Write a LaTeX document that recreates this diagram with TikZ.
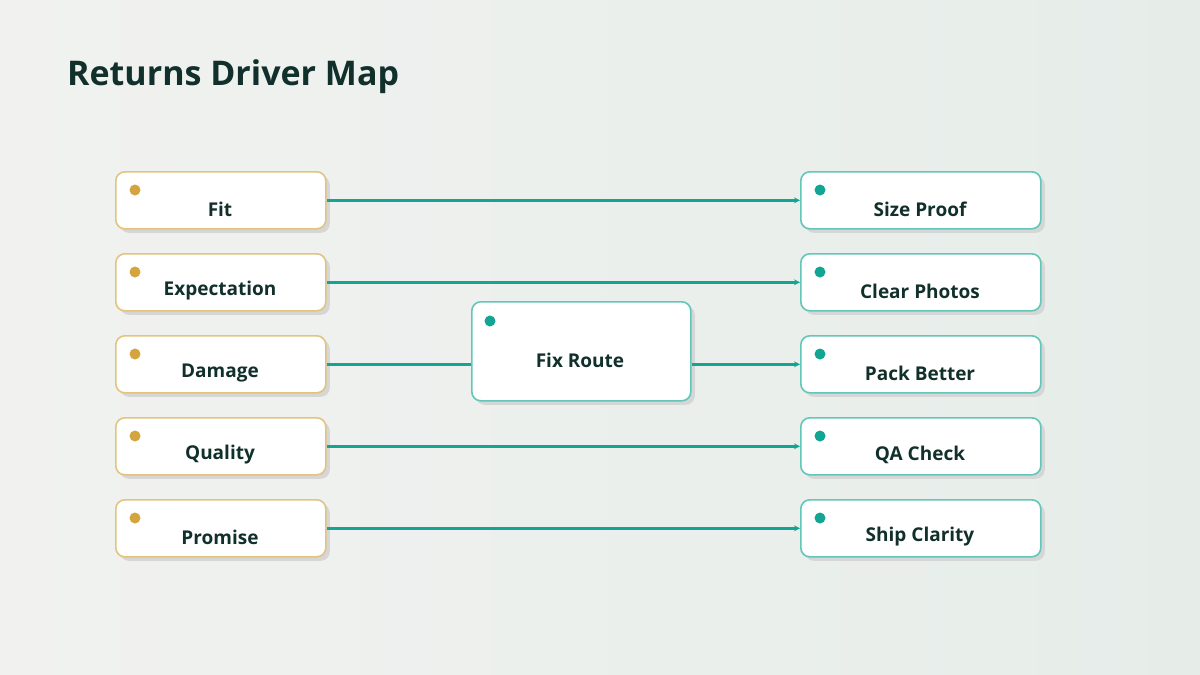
\documentclass[tikz,border=0pt]{standalone}
\usepackage{fontspec}
\setmainfont{Open Sans}
\usetikzlibrary{shadows,arrows.meta}
\definecolor{bgA}{HTML}{F1F2F0}
\definecolor{bgB}{HTML}{E6EDE9}
\definecolor{gold}{HTML}{E2C47E}
\definecolor{golddot}{HTML}{D4A43E}
\definecolor{tealb}{HTML}{62C6B8}
\definecolor{teal}{HTML}{13A594}
\definecolor{ink}{HTML}{12302B}
\tikzset{
  basebox/.style={draw, line width=1.6pt, rounded corners=9pt, fill=white, anchor=north west,
    drop shadow={shadow xshift=4pt, shadow yshift=-4pt, fill=black!16, opacity=1}},
  leftbox/.style={basebox, draw=gold, minimum width=210pt, minimum height=57pt},
  rightbox/.style={basebox, draw=tealb, minimum width=240pt, minimum height=57pt},
  hubbox/.style={basebox, draw=tealb, minimum width=219pt, minimum height=99pt},
  lbl/.style={font=\bfseries\fontsize{19}{21}\selectfont, text=ink, inner sep=0pt},
  gdot/.style={circle, fill=golddot, minimum size=11pt, inner sep=0pt},
  tdot/.style={circle, fill=teal, minimum size=11pt, inner sep=0pt},
  conn/.style={draw=teal, line width=2.4pt},
  arr/.style={conn, -{Stealth[length=6pt, width=6pt]}}
}
\begin{document}
\begin{tikzpicture}[x=1pt,y=-1pt]
\useasboundingbox (0,0) rectangle (1200,675);
\shade[left color=bgA, right color=bgB] (0,0) rectangle (1200,675);
\node[anchor=base west, font=\bfseries\fontsize{34}{38}\selectfont, text=ink, inner sep=0pt] (title) at (67,85) {Returns Driver Map};

% left boxes
\node[leftbox] (l1) at (115,171) {};
\node[leftbox] (l2) at (115,253) {};
\node[leftbox] (l3) at (115,335) {};
\node[leftbox] (l4) at (115,417) {};
\node[leftbox] (l5) at (115,499) {};
% right boxes
\node[rightbox] (r1) at (800,171) {};
\node[rightbox] (r2) at (800,253) {};
\node[rightbox] (r3) at (800,335) {};
\node[rightbox] (r4) at (800,417) {};
\node[rightbox] (r5) at (800,499) {};
% hub
\node[hubbox] (hub) at (471,301) {};

% dots
\node[gdot] (gd1) at (135,190) {};
\node[gdot] (gd2) at (135,272) {};
\node[gdot] (gd3) at (135,354) {};
\node[gdot] (gd4) at (135,436) {};
\node[gdot] (gd5) at (135,518) {};
\node[tdot] (td1) at (820,190) {};
\node[tdot] (td2) at (820,272) {};
\node[tdot] (td3) at (820,354) {};
\node[tdot] (td4) at (820,436) {};
\node[tdot] (td5) at (820,518) {};
\node[tdot] (tdh) at (490,321) {};

% labels
\node[lbl] (tl1) at (220,209) {Fit};
\node[lbl] (tl2) at (220,291) {Expectation};
\node[lbl] (tl3) at (220,373) {Damage};
\node[lbl] (tl4) at (220,455) {Quality};
\node[lbl] (tl5) at (220,537) {Promise};
\node[lbl] (tr1) at (920,209) {Size Proof};
\node[lbl] (tr2) at (920,291) {Clear Photos};
\node[lbl] (tr3) at (920,373) {Pack Better};
\node[lbl] (tr4) at (920,455) {QA Check};
\node[lbl] (tr5) at (920,537) {Ship Clarity};
\node[lbl] (th) at (580,360) {Fix Route};

% connectors
\draw[arr] (l1.east) -- (r1.west);
\draw[arr] (l2.east) -- (r2.west);
\draw[conn] (l3.east) -- (hub.west |- l3.east);
\draw[arr] (hub.east |- r3.west) -- (r3.west);
\draw[arr] (l4.east) -- (r4.west);
\draw[arr] (l5.east) -- (r5.west);
\end{tikzpicture}
\end{document}
